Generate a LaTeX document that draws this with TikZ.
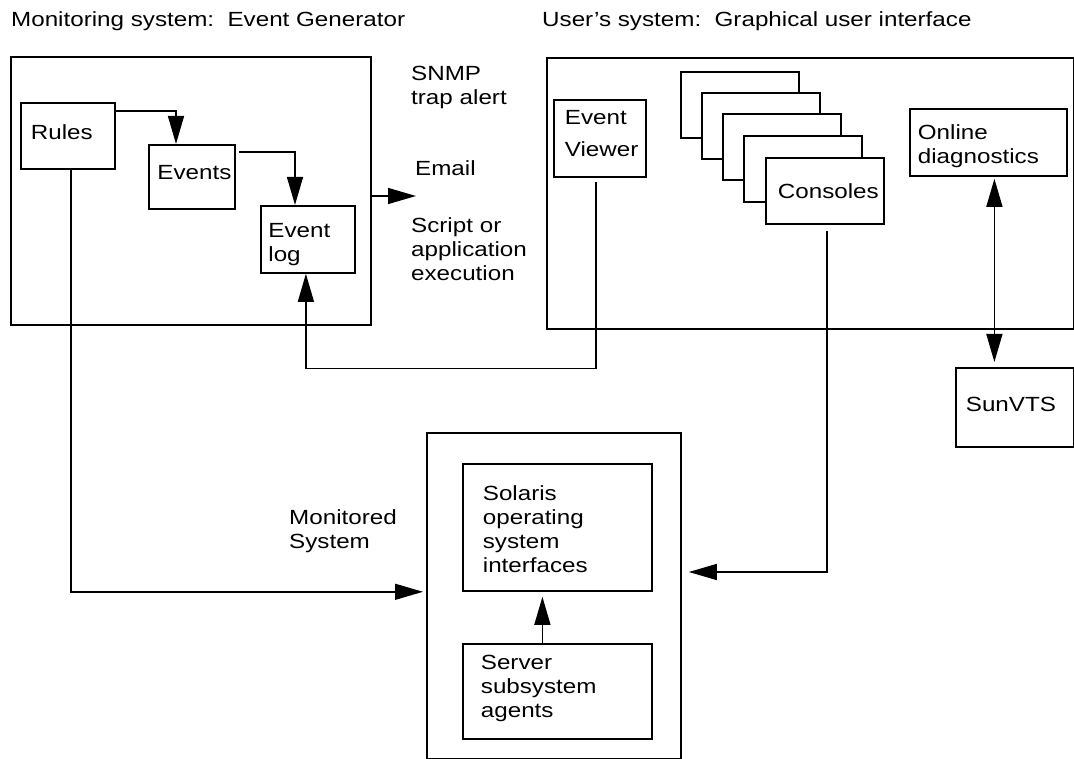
\documentclass[tikz,border=0pt]{standalone}
\usepackage{fontspec}
\setmainfont{Liberation Sans}[FakeStretch=1.18]
\usetikzlibrary{calc}
\usetikzlibrary{arrows.meta}
\hyphenpenalty=10000
\exhyphenpenalty=10000

\tikzset{
  box/.style={draw, line width=1.8pt, anchor=north west, align=left, inner ysep=0pt},
  sheet/.style={draw, fill=white, line width=1.8pt},
  txt/.style={anchor=base west, inner sep=0pt, align=left},
  arr/.style={line width=1.4pt, -{Triangle[length=28pt,width=16pt]}},
  dbl/.style={line width=1.4pt, {Triangle[length=28pt,width=16pt]}-{Triangle[length=28pt,width=16pt]}},
}

\begin{document}
\begin{tikzpicture}[x=1pt, y=-1pt, font=\fontsize{20.5}{24}\selectfont]
\useasboundingbox (0,0) rectangle (1074,759);
% headings
\node[txt] (gentitle) at (11,26.7) {Monitoring system:\ \ Event Generator};
\node[txt] (usrtitle) at (542,26.7) {User’s system:\ \ Graphical user interface};
% Event Generator
\node[box, minimum width=360pt, minimum height=268pt] (genbox) at (10,56) {};
\node[box, inner xsep=10pt, text width=74pt, text height=37pt, text depth=29pt] (rules) at (20,102) {Rules};
\node[box, inner xsep=8.5pt, text width=69pt, text height=35pt, text depth=29pt] (events) at (148,144) {Events};
\node[box, inner xsep=7.5pt, text width=79pt, text height=32pt, text depth=35pt] (evlog) at (260,205) {Event\\log};
\node[txt, text width=150pt] (snmp) at (411,81) {SNMP\\trap alert};
\node[txt] (email) at (415,175.7) {Email};
\node[txt, text width=150pt] (script) at (411,232.3) {Script or\\application\\execution};
\coordinate (mailtip) at (416,196);
% User's system
\node[box, minimum width=527pt, minimum height=271pt] (usrbox) at (546,57) {};
\node[box, inner xsep=11pt, text width=70pt, text height=25pt, text depth=52pt] (viewer) at (553,99) {Event\\[8pt]Viewer};
%     stack of consoles
\draw[sheet] (681,72) rectangle ++(118,66);
\draw[sheet] (702,93) rectangle ++(118,66);
\draw[sheet] (723,114) rectangle ++(118,66);
\draw[sheet] (744,136) rectangle ++(118,66);
\node[box, fill=white, inner xsep=12pt, text width=94pt, text height=41pt, text depth=25pt] (cons) at (765,157) {Consoles};
\node[box, inner xsep=8pt, text width=141pt, text height=31pt, text depth=36pt] (online) at (909,108) {Online\\diagnostics};
\node[box, inner xsep=10pt, text width=98pt, text height=44pt, text depth=35pt] (sunvts) at (955,367) {SunVTS};
% Monitored system
\node[txt, text width=150pt] (monlabel) at (289,524.7) {Monitored\\System};
\node[box, minimum width=254pt, minimum height=326pt] (monbox) at (426,432) {};
\node[box, inner xsep=20pt, text width=149pt, text height=37pt, text depth=90pt] (solaris) at (462,463) {Solaris\\operating\\system\\interfaces};
\node[box, inner xsep=18pt, text width=153pt, text height=26pt, text depth=69pt] (server) at (462,643) {Server\\subsystem\\agents};
% connectors
\draw[arr] ([yshift=-9pt]rules.north east) -| ([xshift=28pt]events.north west);
\draw[arr] ([xshift=3pt,yshift=-8pt]events.north east) -| ([xshift=35pt]evlog.north west);
\draw[arr] (genbox.east |- mailtip) -- (mailtip);
\draw[arr] ([xshift=-4pt,yshift=-4pt]viewer.south) -- ++(0,186.7) -| ([xshift=-2pt]evlog.south);
\draw[arr] ([xshift=3pt]rules.south) |- ($(monbox.west |- solaris.south)+(-3,0)$);
\draw[arr] ([xshift=2pt,yshift=-6pt]cons.south) |- ($(monbox.north east)+(7,140)$);
\draw[dbl] ($(online.south)+(6,2)$) -- ($(online.south |- sunvts.north)+(6,-5)$);
\draw[arr] ([xshift=-15pt]server.north) -- ([xshift=-15pt,yshift=-5pt]solaris.south);
\end{tikzpicture}
\end{document}
